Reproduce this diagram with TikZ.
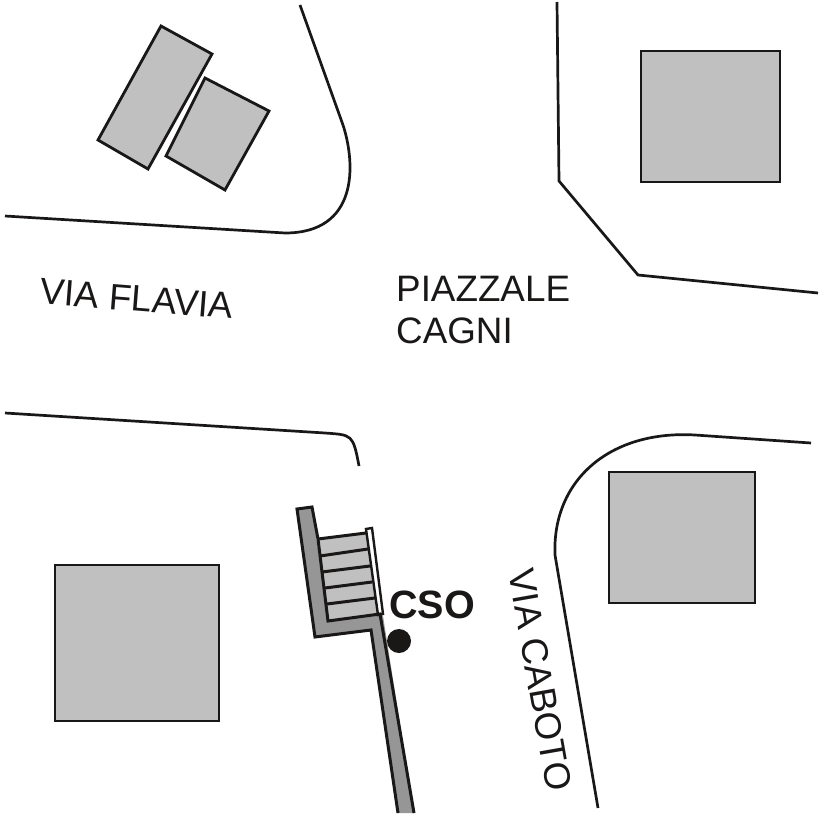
\documentclass[tikz,border=0pt]{standalone}
\usepackage{fontspec}
\setmainfont{Liberation Sans}
\definecolor{lightg}{HTML}{C0C0C0}
\definecolor{darkg}{HTML}{969696}
\definecolor{ink}{HTML}{1A1717}
\tikzset{
  building/.style={draw=ink,fill=lightg,line width=2.8pt,line join=miter},
  road/.style={draw=ink,line width=2.7pt},
  lbl/.style={inner sep=0pt,text=ink,font=\fontsize{36.8}{40}\selectfont,anchor=west},
  rung/.style={draw=ink,line width=3pt}
}
\begin{document}
\begin{tikzpicture}[x=1pt,y=-1pt]
\useasboundingbox (0,0) rectangle (819,819);
% buildings
\path[building] (161,26) -- (212,54) -- (148,169) -- (98,140) -- cycle;
\path[building] (205,78) -- (269,111) -- (225,190) -- (166,156) -- cycle;
\path[building] (641,51) rectangle (780,182);
\path[building] (609,472) rectangle (755,603);
\path[building] (55,565) rectangle (219,721);
% roads
\path[road] (300,5) -- (343,125) .. controls (356,165) and (358,233) .. (285,233) -- (5,216);
\path[road] (557,2) -- (559,181) -- (638,275) -- (818,293);
\path[road] (5,413) -- (325,433) .. controls (352,435) and (353,434) .. (359,466);
\path[road] (811,443) -- (695,435) .. controls (610,430) and (552,480) .. (555,555) -- (598,808);
% stairs and ramp
\path[fill=darkg] (297,509) -- (312,507) -- (328,621) -- (378,614) -- (383,616) -- (414,813) -- (398,813) -- (371,630) -- (315,637) -- cycle;
\path[rung] (398,813) -- (371,630) -- (315,637) -- (297,509) -- (312,507) -- (318,539);
\path[fill=lightg] (318,539) -- (366,533) -- (378,614) -- (328,621) -- cycle;
\path[draw=ink,fill=white,line width=2.4pt] (366,529) -- (372,528) -- (383,614) -- (378,615) -- cycle;
\path[rung] (318,539) -- (328,621) -- (380,614) -- (414,813);
\foreach \xa/\ya/\xb/\yb in {318/539/366/533, 320/556/368/549, 322/572/370/566, 325/588/372/582, 327/604/375/598}
  \path[rung] (\xa,\ya) -- (\xb,\yb);
% monitoring point
\node[circle,fill=ink,minimum size=24pt,inner sep=0pt] (cso dot) at (399,641) {};
% labels
\node[lbl,rotate=-4.5] (flavia) at (40,291) {VIA FLAVIA};
\node[lbl] (piazzale) at (396,289) {PIAZZALE};
\node[lbl] (cagni) at (396,331) {CAGNI};
\node[lbl,font=\fontsize{39.5}{42}\selectfont\bfseries] (cso) at (389,605) {CSO};
\node[lbl,rotate=-80,anchor=center] (caboto) at (540,680) {VIA CABOTO};
\end{tikzpicture}
\end{document}
